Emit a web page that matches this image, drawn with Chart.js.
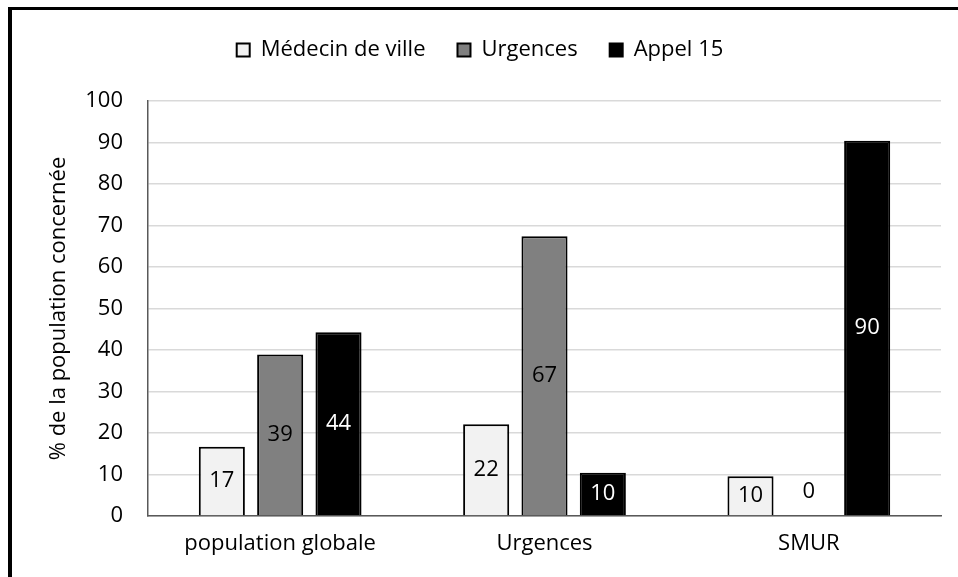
<!DOCTYPE html>
<html>
<head>
<meta charset="utf-8">
<script src="https://cdn.jsdelivr.net/npm/chart.js@4"></script>
<style>
  html, body { margin: 0; padding: 0; background: #fff; overflow: hidden; }
  #wrap { position: relative; width: 958px; height: 577px; }
  #frame { position: absolute; left: 8px; top: 7px; width: 980px; height: 600px;
           border-left: 4px solid #000; border-top: 3px solid #000; pointer-events: none; }
</style>
</head>
<body>
<div id="wrap">
  <canvas id="myChart" width="958" height="577"></canvas>
  <div id="frame"></div>
</div>
<script>
const categories = ['population globale', 'Urgences', 'SMUR'];
const seriesNames = ['Médecin de ville', 'Urgences', 'Appel 15'];
const medecinDeVille = [16.7, 22.1, 9.6];
const urgences = [38.9, 67.4, 0];
const appel15 = [44.3, 10.4, 90.4];
const yTicks = [0, 10, 20, 30, 40, 50, 60, 70, 80, 90, 100];

const fontFamily = '"Open Sans", sans-serif';
const fontSize = 22;

// labels drawn in the middle of each bar
const barLabels = {
    id: 'barLabels',
    afterDatasetsDraw(chart) {
        const ctx = chart.ctx;
        ctx.save();
        ctx.font = fontSize + 'px ' + fontFamily;
        ctx.textAlign = 'center';
        ctx.textBaseline = 'middle';
        chart.data.datasets.forEach((ds, i) => {
            chart.getDatasetMeta(i).data.forEach((bar, j) => {
                const v = ds.data[j];
                let y = (bar.y + bar.base) / 2;
                if (bar.base - bar.y < 20) y = bar.base - 24;
                ctx.fillStyle = (i === 2 && v > 0) ? '#fff' : '#000';
                ctx.fillText(Math.round(v), bar.x, y);
            });
        });
        ctx.restore();
    }
};

// make room between legend and plot
const legendSpace = {
    id: 'legendSpace',
    beforeInit(chart) {
        const fit = chart.legend.fit;
        chart.legend.fit = function () {
            fit.bind(chart.legend)();
            this.height = 94;
        };
    }
};

const ctx = document.getElementById('myChart').getContext('2d');
const myChart = new Chart(ctx, {
    type: 'bar',
    data: {
        labels: categories,
        datasets: [{
            label: seriesNames[0],
            data: medecinDeVille,
            backgroundColor: '#f2f2f2',
            borderColor: '#000',
            borderWidth: 2
        }, {
            label: seriesNames[1],
            data: urgences,
            backgroundColor: '#808080',
            borderColor: '#000',
            borderWidth: 2
        }, {
            label: seriesNames[2],
            data: appel15,
            backgroundColor: '#000',
            borderColor: '#000',
            borderWidth: 2
        }]
    },
    options: {
        responsive: false,
        animation: false,
        categoryPercentage: 0.662,
        barPercentage: 0.79,
        layout: { padding: { top: 7, right: 17, bottom: 0, left: 19 } },
        plugins: {
            legend: {
                display: true,
                position: 'top',
                labels: {
                    color: '#000',
                    font: { family: fontFamily, size: fontSize },
                    boxWidth: 13,
                    boxHeight: 13,
                    padding: 32
                }
            },
            tooltip: { enabled: false }
        },
        scales: {
            x: {
                afterFit(s) { s.height = 61; },
                grid: { display: false, drawTicks: false },
                border: { color: '#595959', width: 1.5 },
                ticks: { color: '#000', font: { family: fontFamily, size: fontSize }, padding: 15 }
            },
            y: {
                min: 0,
                max: 100,
                afterFit(s) { s.width = 129; },
                afterBuildTicks(s) { s.ticks = yTicks.map(v => ({ value: v })); },
                grid: { color: '#d9d9d9', lineWidth: 1.5, drawTicks: false },
                border: { color: '#595959', width: 1.5 },
                ticks: { color: '#000', font: { family: fontFamily, size: fontSize }, padding: 25 },
                title: {
                    display: true,
                    text: '% de la population concernée',
                    color: '#000',
                    font: { family: fontFamily, size: fontSize },
                    padding: { top: 27, bottom: 0 }
                }
            }
        }
    },
    plugins: [barLabels, legendSpace]
});
</script>
</body>
</html>
